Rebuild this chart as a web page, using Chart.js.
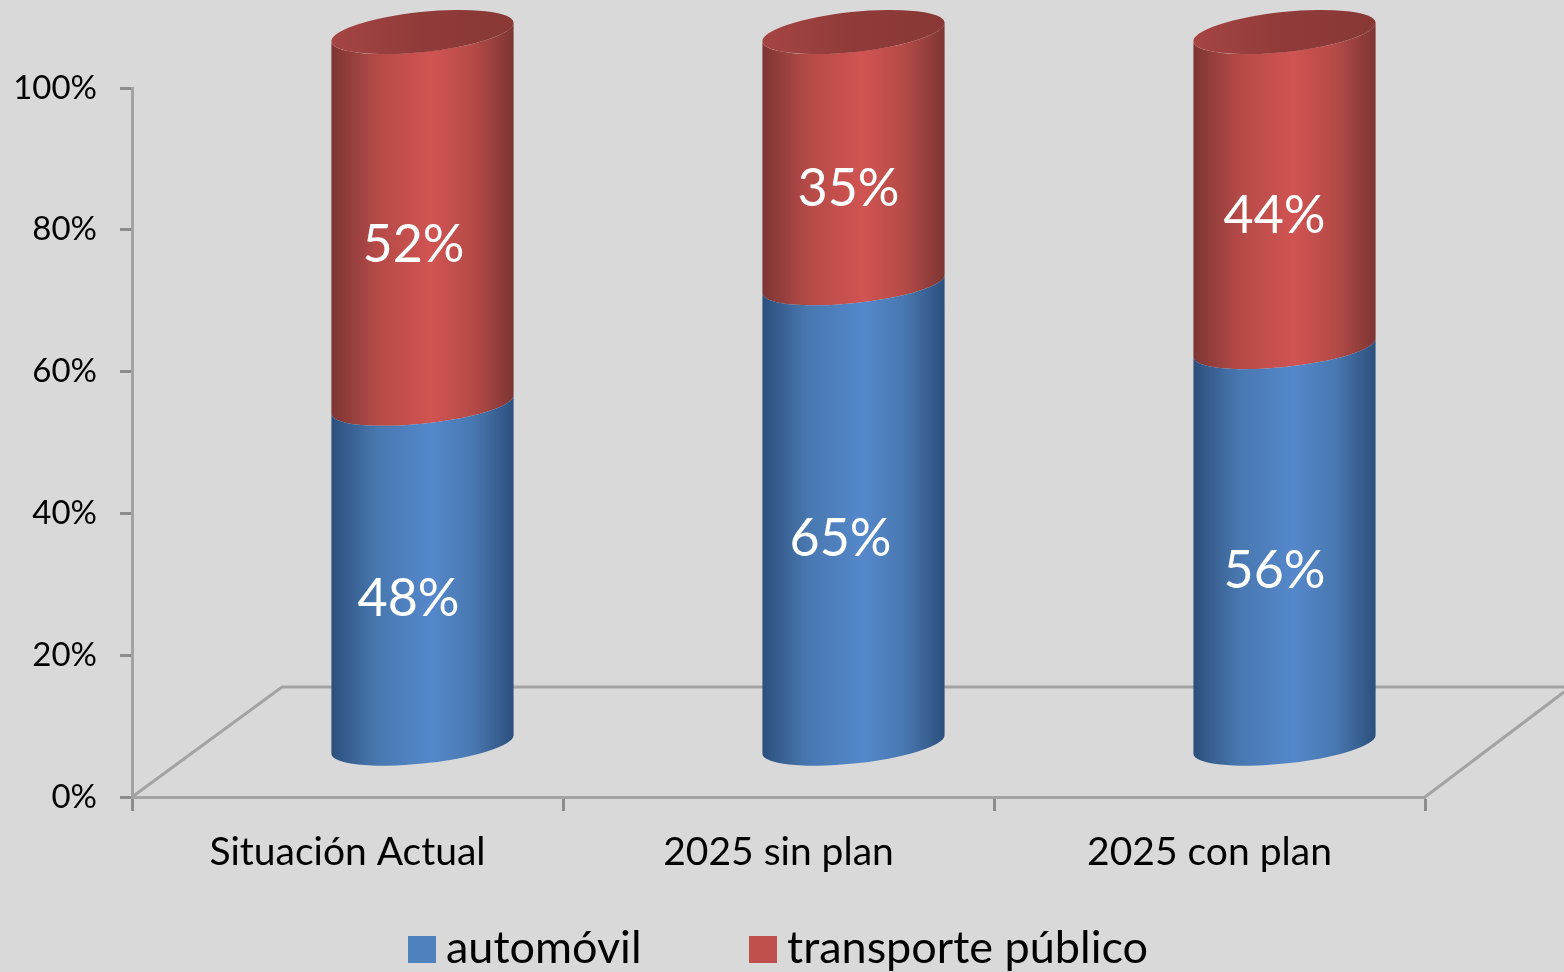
<!DOCTYPE html>
<html>

<head>
    <meta charset="utf-8">
    <title>Reparto modal</title>
    <script src="https://cdn.jsdelivr.net/npm/chart.js@4/dist/chart.umd.min.js"></script>
    <style>
    html,
    body {
        margin: 0;
        padding: 0;
        background-color: #d9d9d9;
        overflow: hidden;
    }

    canvas {
        display: block;
        filter: blur(0.6px);
    }
    </style>
</head>

<body>
    <canvas id="chart" width="1564" height="972"></canvas>
    <script>
    const categories = ['Situación Actual', '2025 sin plan', '2025 con plan'];
    const automovil = [48, 65, 56];
    const transporte = [52, 35, 44];
    const yTicks = [0, 20, 40, 60, 80, 100];

    // small hand nudges for the value labels, as placed in the original
    const autoNudgeX = [-14, -13, -10];
    const transNudgeX = [-9, -5, -10];
    const autoNudgeY = [0, 0, 0];
    const transNudgeY = [0, 4, -1];

    const depthX = 75;
    const depthY = 52;
    const lidRaise = 4;
    const tilt = -6 * Math.PI / 180;
    const ry = 19;
    const lidRy = 20;
    const axisGrey = '#a3a3a3';
    const font = 'Lato';

    const shades = [
        { dark: '#2c4f7c', mid: '#4878b0', light: '#5588cb' },
        { dark: '#7c3533', mid: '#b54a47', light: '#d05452' }
    ];

    function sideGradient(ctx, left, right, c) {
        const g = ctx.createLinearGradient(left, 0, right, 0);
        g.addColorStop(0, c.dark);
        g.addColorStop(0.25, c.mid);
        g.addColorStop(0.55, c.light);
        g.addColorStop(0.78, c.mid);
        g.addColorStop(1, c.dark);
        return g;
    }

    // cylinders take the place of the flat bars, still placed by the bar elements
    const cylinders = {
        id: 'cylinders',
        beforeDatasetsDraw(chart) {
            const { ctx, chartArea: a } = chart;
            ctx.save();
            ctx.strokeStyle = axisGrey;
            ctx.lineWidth = 3;
            const backY = a.bottom - 110;
            ctx.beginPath();
            ctx.moveTo(a.left, a.bottom);
            ctx.lineTo(a.left + 150, backY);
            ctx.lineTo(chart.width, backY);
            ctx.moveTo(a.right, a.bottom);
            ctx.lineTo(chart.width, backY + 5);
            ctx.stroke();
            ctx.restore();
        },
        beforeDatasetDraw(chart, args) {
            const { ctx } = chart;
            const isTop = args.index === chart.data.datasets.length - 1;
            args.meta.data.forEach((bar) => {
                const rx = bar.width / 2;
                const cx = bar.x + depthX;
                const yTop = bar.y - depthY - (isTop ? lidRaise : 0);
                const yBase = bar.base - depthY;
                const rTop = isTop ? lidRy : ry;
                const t0 = Math.atan(-(ry / rx) * Math.tan(tilt));
                ctx.save();
                ctx.beginPath();
                ctx.ellipse(cx, yBase, rx, ry, tilt, t0, t0 + Math.PI);
                ctx.ellipse(cx, yTop, rx, rTop, tilt, t0 + Math.PI, t0, true);
                ctx.closePath();
                ctx.fillStyle = sideGradient(ctx, cx - rx, cx + rx, shades[args.index]);
                ctx.fill();
                if (isTop) {
                    const lid = ctx.createLinearGradient(cx - rx, 0, cx + rx, 0);
                    lid.addColorStop(0, '#a64543');
                    lid.addColorStop(0.5, '#8f3b39');
                    lid.addColorStop(1, '#893836');
                    ctx.beginPath();
                    ctx.ellipse(cx, yTop, rx, lidRy, tilt, 0, Math.PI * 2);
                    ctx.fillStyle = lid;
                    ctx.fill();
                }
                ctx.restore();
            });
            return false;
        },
        afterDatasetsDraw(chart) {
            const { ctx } = chart;
            ctx.save();
            // value labels
            ctx.fillStyle = '#ffffff';
            ctx.font = '52px ' + font;
            ctx.textAlign = 'center';
            ctx.textBaseline = 'middle';
            const nudgesX = [autoNudgeX, transNudgeX];
            const nudgesY = [autoNudgeY, transNudgeY];
            chart.data.datasets.forEach((ds, i) => {
                chart.getDatasetMeta(i).data.forEach((bar, j) => {
                    const x = bar.x + depthX + nudgesX[i][j];
                    const y = (bar.y + bar.base) / 2 - 27 + nudgesY[i][j];
                    ctx.fillText(ds.data[j] + '%', x, y);
                });
            });
            // legend, box and text closer together than the stock legend allows
            ctx.font = '45px ' + font;
            ctx.textAlign = 'left';
            ctx.textBaseline = 'alphabetic';
            const starts = [408, 749];
            chart.data.datasets.forEach((ds, i) => {
                ctx.fillStyle = ds.backgroundColor;
                ctx.fillRect(starts[i], 936, 28, 27);
                ctx.fillStyle = '#000000';
                ctx.fillText(ds.label, starts[i] + 38, 963);
            });
            ctx.restore();
        }
    };

    new Chart(document.getElementById('chart'), {
        type: 'bar',
        data: {
            labels: categories,
            datasets: [
                { label: 'automóvil', data: automovil, backgroundColor: '#4f81bd' },
                { label: 'transporte público', data: transporte, backgroundColor: '#c0504d' }
            ]
        },
        options: {
            responsive: false,
            animation: false,
            barPercentage: 0.607,
            categoryPercentage: 0.7,
            layout: { padding: { top: 88, right: 139, left: 0, bottom: 0 } },
            plugins: {
                legend: { display: false },
                tooltip: { enabled: false }
            },
            scales: {
                x: {
                    stacked: true,
                    afterFit(scale) { scale.height = 175; },
                    border: { color: axisGrey, width: 3 },
                    grid: { drawOnChartArea: false, tickLength: 14, tickColor: '#8c8c8c', tickWidth: 3 },
                    ticks: { color: '#000000', font: { family: font, size: 39 }, padding: 18, maxRotation: 0 }
                },
                y: {
                    stacked: true,
                    min: 0,
                    max: 100,
                    afterFit(scale) { scale.width = 132; },
                    afterBuildTicks(scale) { scale.ticks = yTicks.map((v) => ({ value: v })); },
                    border: { color: axisGrey, width: 3 },
                    grid: { drawOnChartArea: false, tickLength: 12, tickColor: '#8c8c8c', tickWidth: 3 },
                    ticks: {
                        color: '#000000',
                        font: { family: font, size: 33 },
                        padding: 23,
                        callback: (v) => v + '%'
                    }
                }
            }
        },
        plugins: [cylinders]
    });
    </script>
</body>

</html>
